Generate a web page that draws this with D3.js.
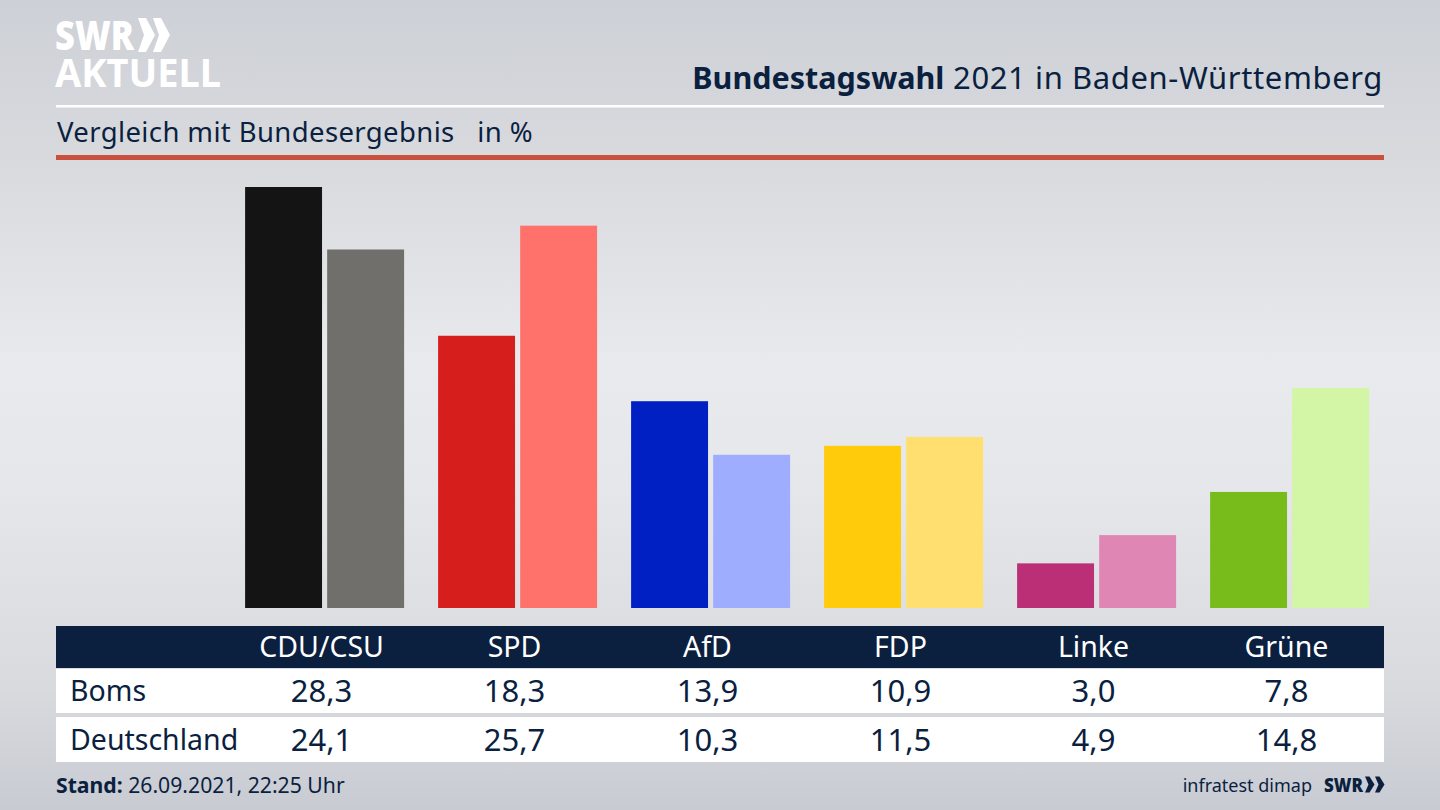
<!DOCTYPE html>
<html lang="de">
<head>
<meta charset="utf-8">
<title>Bundestagswahl 2021 in Baden-Württemberg</title>
<script src="https://cdn.jsdelivr.net/npm/d3@7"></script>
<style>
  html, body { margin: 0; padding: 0; background: #d6d8dd; }
  svg { display: block; }
  text { font-family: "Noto Sans", "Open Sans", sans-serif; fill: #0b1f3f; }
</style>
</head>
<body>
<div id="chart"></div>
<script>
// Daten
const parties = ['CDU/CSU', 'SPD', 'AfD', 'FDP', 'Linke', 'Grüne'];
const rowNames = ['Boms', 'Deutschland'];
const boms = [28.3, 18.3, 13.9, 10.9, 3.0, 7.8];
const deutschland = [24.1, 25.7, 10.3, 11.5, 4.9, 14.8];
const bomsColors = ['#141414', '#d61f1c', '#0020c4', '#ffcb0a', '#bb2f77', '#78bc1c'];
const deutschlandColors = ['#706f6c', '#ff726c', '#9fadff', '#ffdf70', '#e086b5', '#d2f5a6'];

const width = 1440;
const height = 810;
const navy = '#0b1f3f';
const left = 56;
const right = 1384;

const svg = d3.select('#chart').append('svg')
    .attr('width', width)
    .attr('height', height);

// Hintergrund
const defs = svg.append('defs');
const bg = defs.append('linearGradient')
    .attr('id', 'bg')
    .attr('x1', 0).attr('y1', 0)
    .attr('x2', 0).attr('y2', 1);
[[0, '#cdd0d6'], [0.2, '#d8dade'], [0.45, '#e9eaed'], [0.6, '#e6e7ea'], [0.85, '#d8dade'], [1, '#c8cbd2']]
    .forEach(s => bg.append('stop').attr('offset', s[0]).attr('stop-color', s[1]));
svg.append('rect').attr('width', width).attr('height', height).attr('fill', 'url(#bg)');

// Logo
const logo = svg.append('g');
logo.append('text')
    .attr('x', 55).attr('y', 50)
    .attr('font-size', 41).attr('font-weight', 900)
    .attr('textLength', 79).attr('lengthAdjust', 'spacingAndGlyphs')
    .style('fill', '#fff')
    .text('SWR');
logo.selectAll('path.chev')
    .data([138, 153])
    .enter().append('path')
    .attr('class', 'chev')
    .attr('transform', d => `translate(${d},18)`)
    .attr('d', 'M0,0 L8,0 L17,17 L8,34 L0,34 L6,17 Z')
    .attr('fill', '#fff');
logo.append('text')
    .attr('x', 55).attr('y', 87)
    .attr('font-size', 40).attr('font-weight', 700)
    .attr('textLength', 166).attr('lengthAdjust', 'spacingAndGlyphs')
    .style('fill', '#fff')
    .text('AKTUELL');

// Titel
const title = svg.append('text')
    .attr('x', 1383).attr('y', 89)
    .attr('text-anchor', 'end')
    .attr('font-size', 31);
title.append('tspan').attr('font-weight', 700).attr('font-size', 30.5).text('Bundestagswahl');
title.append('tspan').attr('letter-spacing', 0.6).text(' 2021 in Baden-Württemberg');

svg.append('rect')
    .attr('x', left).attr('y', 105)
    .attr('width', right - left).attr('height', 2.5)
    .attr('fill', '#fff');

svg.append('text')
    .attr('x', 57).attr('y', 142)
    .attr('font-size', 27.5)
    .attr('letter-spacing', 0.38)
    .style('white-space', 'pre')
    .text('Vergleich mit Bundesergebnis   in %');

svg.append('rect')
    .attr('x', left).attr('y', 155)
    .attr('width', right - left).attr('height', 5)
    .attr('fill', '#c9503f');

// Skalen
const x = d3.scaleBand()
    .domain(parties)
    .range([228.1, 1386.1])
    .paddingInner(0)
    .paddingOuter(0);
const inner = d3.scaleBand()
    .domain(['boms', 'deutschland'])
    .range([0, 159])
    .paddingInner(0.0625);
const y = d3.scaleLinear()
    .domain([0, 28.3])
    .range([608, 187]);

const groupX = d => x(d) + (x.bandwidth() - 159) / 2;

// Balken
const groups = svg.selectAll('g.party')
    .data(parties)
    .enter().append('g')
    .attr('class', 'party')
    .attr('transform', d => `translate(${groupX(d)},0)`);

groups.append('rect')
    .attr('x', inner('boms'))
    .attr('width', inner.bandwidth())
    .attr('y', (d, i) => y(boms[i]))
    .attr('height', (d, i) => y(0) - y(boms[i]))
    .attr('fill', (d, i) => bomsColors[i]);

groups.append('rect')
    .attr('x', inner('deutschland'))
    .attr('width', inner.bandwidth())
    .attr('y', (d, i) => y(deutschland[i]))
    .attr('height', (d, i) => y(0) - y(deutschland[i]))
    .attr('fill', (d, i) => deutschlandColors[i]);

// Tabelle
svg.append('rect')
    .attr('x', left).attr('y', 626)
    .attr('width', right - left).attr('height', 42)
    .attr('fill', navy);
svg.append('rect')
    .attr('x', left).attr('y', 669)
    .attr('width', right - left).attr('height', 44)
    .attr('fill', '#fff');
svg.append('rect')
    .attr('x', left).attr('y', 717)
    .attr('width', right - left).attr('height', 45)
    .attr('fill', '#fff');

const labelX = d => x(d) + x.bandwidth() / 2 - 3.1;
const fmt = v => v.toFixed(1).replace('.', ',');

svg.selectAll('text.head')
    .data(parties)
    .enter().append('text')
    .attr('class', 'head')
    .attr('x', labelX)
    .attr('y', 657)
    .attr('text-anchor', 'middle')
    .attr('font-size', 28.5)
    .style('fill', '#fff')
    .text(d => d);

[boms, deutschland].forEach((values, r) => {
    const rowY = r === 0 ? 701 : 750;
    svg.append('text')
        .attr('x', 70).attr('y', rowY)
        .attr('font-size', 28.5)
        .text(rowNames[r]);
    svg.selectAll('text.row' + r)
        .data(parties)
        .enter().append('text')
        .attr('class', 'row' + r)
        .attr('x', labelX)
        .attr('y', rowY + 1)
        .attr('text-anchor', 'middle')
        .attr('font-size', 31)
        .text((d, i) => fmt(values[i]));
});

// Fusszeile
const stand = svg.append('text')
    .attr('x', 56).attr('y', 793)
    .attr('font-size', 21.2);
stand.append('tspan').attr('font-weight', 700).text('Stand:');
stand.append('tspan').text(' 26.09.2021, 22:25 Uhr');

svg.append('text')
    .attr('x', 1312).attr('y', 792)
    .attr('text-anchor', 'end')
    .attr('font-size', 18)
    .text('infratest dimap');

svg.append('text')
    .attr('x', 1324).attr('y', 792)
    .attr('font-size', 20).attr('font-weight', 900)
    .attr('textLength', 39).attr('lengthAdjust', 'spacingAndGlyphs')
    .text('SWR');
svg.selectAll('path.chev2')
    .data([1365, 1375])
    .enter().append('path')
    .attr('class', 'chev2')
    .attr('transform', d => `translate(${d},776.5)`)
    .attr('d', 'M0,0 L4.5,0 L9.5,8 L4.5,16 L0,16 L3.5,8 Z')
    .attr('fill', navy);
</script>
</body>
</html>
